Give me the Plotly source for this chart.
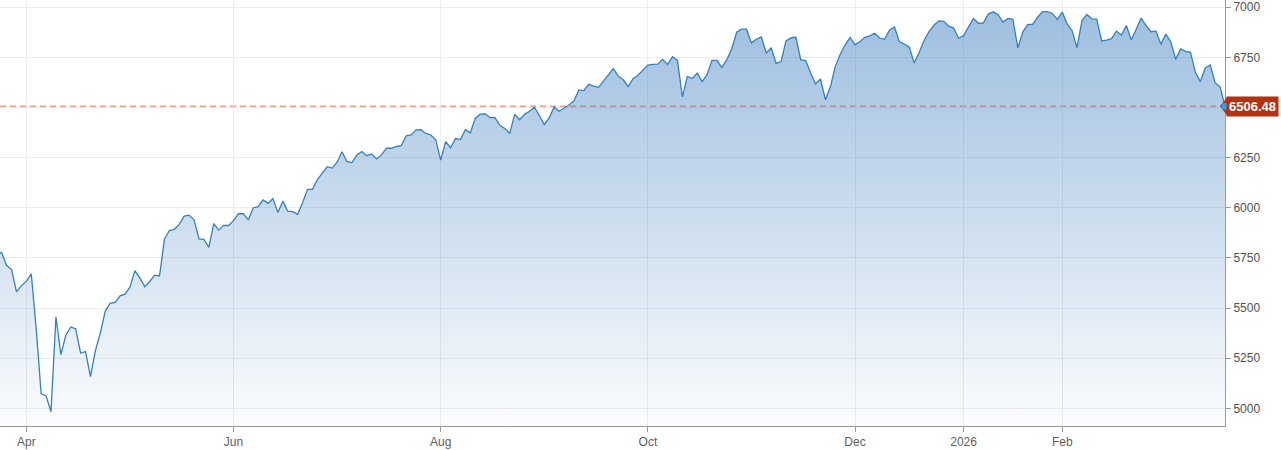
#!/usr/bin/env python

""" Daily index closes, Mar 2025 - Mar 2026, drawn as a filled area chart """

import pandas as pd
import plotly.graph_objs as go

# Market holidays between the first and last session
HOLIDAYS = [
    "2025-04-18", "2025-05-26", "2025-06-19", "2025-07-04", "2025-09-01",
    "2025-11-27", "2025-12-25", "2026-01-01", "2026-01-19", "2026-02-16",
]

# Closing values, one list per month (trading days only)
MAR_2025 = [5767.57, 5776.65, 5712.20, 5693.31, 5580.94, 5611.85]
APR_2025 = [5633.07, 5670.97, 5396.52, 5074.08, 5062.25, 4982.77, 5456.90,
            5268.05, 5363.36, 5405.97, 5396.63, 5275.70, 5282.70, 5158.20,
            5287.76, 5375.86, 5484.77, 5525.21, 5528.75, 5560.83, 5569.06]
MAY_2025 = [5604.14, 5686.67, 5650.38, 5606.91, 5631.28, 5663.94, 5659.91,
            5844.19, 5886.55, 5892.58, 5916.93, 5958.38, 5963.60, 5940.46,
            5844.61, 5842.01, 5802.82, 5921.54, 5888.55, 5912.17, 5911.69]
JUN_2025 = [5935.94, 5970.37, 5970.81, 5939.30, 6000.36, 6005.88, 6038.81,
            6022.24, 6045.26, 5976.97, 6033.11, 5982.72, 5980.87, 5967.84,
            6025.17, 6092.18, 6092.16, 6141.02, 6173.07, 6204.95]
JUL_2025 = [6198.01, 6227.42, 6279.35, 6229.98, 6225.52, 6263.26, 6280.46,
            6259.75, 6268.56, 6243.76, 6263.70, 6297.36, 6296.79, 6305.60,
            6309.62, 6358.91, 6363.35, 6388.64, 6389.77, 6370.86, 6362.90,
            6339.39]
AUG_2025 = [6238.01, 6329.94, 6299.19, 6345.06, 6340.00, 6389.45, 6373.45,
            6445.76, 6466.58, 6468.54, 6449.80, 6449.15, 6411.37, 6395.78,
            6370.17, 6466.91, 6439.32, 6465.94, 6481.40, 6501.86, 6460.26]
SEP_2025 = [6415.54, 6448.26, 6502.08, 6481.50, 6495.15, 6512.61, 6532.04,
            6587.47, 6584.29, 6615.28, 6606.76, 6600.35, 6631.96, 6664.36,
            6693.75, 6656.92, 6637.97, 6604.72, 6643.70, 6661.21, 6688.46]
OCT_2025 = [6711.20, 6715.35, 6715.79, 6740.28, 6714.59, 6753.72, 6735.11,
            6552.51, 6654.72, 6644.31, 6671.06, 6629.07, 6664.01, 6735.13,
            6735.35, 6699.40, 6738.44, 6791.69, 6875.16, 6890.89, 6890.59,
            6822.34, 6840.20]
NOV_2025 = [6851.97, 6771.55, 6796.29, 6720.32, 6728.80, 6832.43, 6846.61,
            6850.92, 6737.49, 6734.11, 6672.41, 6617.32, 6642.16, 6538.76,
            6602.99, 6705.12, 6765.88, 6812.61, 6849.09]
DEC_2025 = [6812.63, 6829.37, 6849.72, 6857.12, 6870.40, 6846.51, 6840.51,
            6886.68, 6901.00, 6827.41, 6816.51, 6800.26, 6721.43, 6774.76,
            6834.50, 6878.49, 6909.79, 6932.05, 6929.94, 6905.74, 6896.24,
            6845.50]
JAN_2026 = [6858, 6902, 6944, 6920, 6921, 6966, 6977, 6963, 6926, 6944,
            6940, 6797, 6876, 6913, 6915, 6950, 6978, 6978, 6969, 6939]
FEB_2026 = [6976, 6917, 6883, 6798, 6932, 6964, 6942, 6941, 6832, 6836,
            6843, 6881, 6861, 6909, 6837, 6890, 6946, 6908, 6878]
MAR_2026 = [6881, 6815, 6866, 6828, 6740, 6792, 6780, 6775, 6674, 6630,
            6697, 6712, 6624, 6603, 6506.48]

# Axis labels sit on the first session of the month
TICK_DATES = ["2025-04-01", "2025-06-02", "2025-08-01", "2025-10-01",
              "2025-12-01", "2026-01-02", "2026-02-02"]
TICK_LABELS = ["Apr", "Jun", "Aug", "Oct", "Dec", "2026", "Feb"]
Y_TICKS = [5000, 5250, 5500, 5750, 6000, 6250, 6500, 6750, 7000]
# the 6500 label sits under the value tag, so it is left blank
Y_LABELS = ["5000", "5250", "5500", "5750", "6000", "6250", "", "6750", "7000"]

TAG_RED = "#b8300f"


def build_series():
    """ Pair each close with its trading date """
    closes = (MAR_2025 + APR_2025 + MAY_2025 + JUN_2025 + JUL_2025 + AUG_2025
              + SEP_2025 + OCT_2025 + NOV_2025 + DEC_2025 + JAN_2026
              + FEB_2026 + MAR_2026)
    days = pd.bdate_range("2025-03-24", "2026-03-20", freq="C", holidays=HOLIDAYS)
    dates = list(days.strftime("%Y-%m-%d"))
    return dates, closes


def make_figure(dates, closes):
    """ Area chart with the latest value tagged on the right axis """
    last_value = closes[-1]

    area = go.Scatter(
        x=dates,
        y=closes,
        mode="lines",
        line=dict(color="#3380c2", width=1.3),
        fill="tozeroy",
        fillgradient=dict(
            type="vertical",
            start=4912,
            stop=7036,
            colorscale=[[0, "rgba(64,128,192,0.02)"], [1, "rgba(64,128,192,0.52)"]],
        ),
        hoverinfo="x+y",
        showlegend=False,
    )

    layout = go.Layout(
        width=1281,
        height=450,
        margin=dict(l=0, r=56, t=0, b=24),
        paper_bgcolor="white",
        plot_bgcolor="white",
        font=dict(family="Liberation Sans, Arial, sans-serif", size=12, color="#606060"),
        xaxis=dict(
            type="category",
            categoryorder="trace",
            range=[0.66, len(dates) - 1],
            tickvals=TICK_DATES,
            ticktext=TICK_LABELS,
            showgrid=True,
            gridcolor="#ececec",
            showline=True,
            linecolor="#9a9a9a",
            ticks="outside",
            ticklen=5,
            tickcolor="#9a9a9a",
            tickfont=dict(size=12, color="#606060"),
            fixedrange=True,
        ),
        yaxis=dict(
            side="right",
            range=[4912, 7036],
            tickvals=Y_TICKS,
            ticktext=Y_LABELS,
            showgrid=True,
            gridcolor="#ececec",
            zeroline=False,
            showline=True,
            linecolor="#9a9a9a",
            ticks="outside",
            ticklen=5,
            tickcolor="#9a9a9a",
            tickfont=dict(size=12, color="#505050"),
            fixedrange=True,
        ),
        shapes=[
            # dashed marker of the latest close, kept under the area
            dict(
                type="line",
                xref="paper",
                yref="y",
                x0=0,
                x1=1,
                y0=last_value,
                y1=last_value,
                line=dict(color="#ef9e88", width=1.5, dash="6px,4px"),
                layer="below",
            ),
            # arrow head of the value tag
            dict(
                type="path",
                xref="paper",
                yref="y",
                xsizemode="pixel",
                ysizemode="pixel",
                xanchor=1,
                yanchor=last_value,
                path="M -5,0 L 2,9 L 2,-9 Z",
                fillcolor=TAG_RED,
                line=dict(width=0),
                layer="above",
            ),
            # blue dot on the latest close, on top of the arrow
            dict(
                type="circle",
                xref="paper",
                yref="y",
                xsizemode="pixel",
                ysizemode="pixel",
                xanchor=1,
                yanchor=last_value,
                x0=-3.5,
                x1=3.5,
                y0=-3.5,
                y1=3.5,
                fillcolor="#22a6ec",
                line=dict(width=0),
                layer="above",
            ),
        ],
        annotations=[
            dict(
                xref="paper",
                yref="y",
                x=1,
                y=last_value,
                xanchor="left",
                yanchor="middle",
                xshift=1,
                text="<b>%.2f</b>" % last_value,
                showarrow=False,
                bgcolor=TAG_RED,
                borderpad=2,
                font=dict(family="Liberation Sans, Arial, sans-serif", size=13, color="white"),
            )
        ],
    )

    return go.Figure(data=[area], layout=layout)


def main():
    """ Application logic """
    dates, closes = build_series()
    fig = make_figure(dates, closes)
    # drop the page's default body margin so the chart fills the window
    fig.write_html(
        "out.html",
        config={"displayModeBar": False},
        post_script="document.body.style.margin = '0px';",
    )


if __name__ == "__main__":
    main()
